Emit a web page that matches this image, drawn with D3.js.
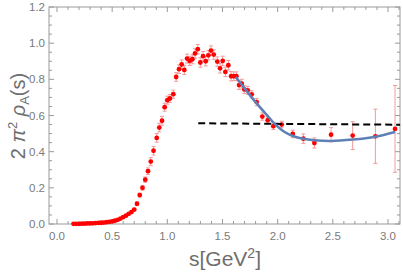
<!DOCTYPE html>
<html>
<head>
<meta charset="utf-8">
<script src="https://cdn.jsdelivr.net/npm/d3@7"></script>
<style>
body{margin:0;background:#fff;}
svg{display:block;}
</style>
</head>
<body>
<script>
// data points (s in GeV^2, 2 pi^2 rho_A)
var sVals = [0.150,0.175,0.200,0.225,0.250,0.275,0.300,0.325,0.350,0.375,
0.400,0.425,0.450,0.475,0.500,0.525,0.550,0.575,0.600,0.625,
0.650,0.675,0.700,0.725,0.750,0.775,0.800,0.825,0.850,0.875,
0.904,0.927,0.952,0.976,1.000,1.024,1.054,1.080,1.106,1.130,
1.154,1.179,1.203,1.227,1.251,1.276,1.299,1.324,1.348,1.372,
1.396,1.421,1.453,1.478,1.502,1.526,1.553,1.578,1.602,1.626,
1.650,1.675,1.698,1.729,1.765,1.810,1.861,1.910,1.961,2.037,
2.137,2.233,2.333,2.484,2.680,2.886,3.064];
var rhoVals = [0.001,0.001,0.001,0.002,0.002,0.003,0.003,0.004,0.005,0.006,
0.007,0.008,0.010,0.012,0.014,0.018,0.023,0.030,0.038,0.046,
0.056,0.066,0.080,0.112,0.160,0.200,0.245,0.292,0.345,0.405,
0.476,0.533,0.571,0.646,0.685,0.694,0.718,0.813,0.856,0.882,
0.852,0.915,0.902,0.911,0.943,0.967,0.893,0.928,0.900,0.933,
0.959,0.937,0.898,0.861,0.902,0.841,0.878,0.817,0.817,0.817,
0.768,0.776,0.744,0.739,0.717,0.674,0.594,0.574,0.541,0.550,
0.498,0.472,0.448,0.494,0.489,0.485,0.526];
var errVals = [0.001,0.001,0.001,0.001,0.001,0.001,0.001,0.001,0.001,0.001,
0.001,0.002,0.002,0.002,0.002,0.002,0.003,0.003,0.004,0.004,
0.005,0.006,0.007,0.009,0.011,0.013,0.015,0.018,0.022,0.024,
0.024,0.024,0.024,0.022,0.022,0.022,0.022,0.024,0.024,0.025,
0.025,0.025,0.025,0.025,0.026,0.026,0.026,0.026,0.026,0.026,
0.026,0.026,0.026,0.026,0.026,0.026,0.026,0.026,0.024,0.024,
0.024,0.024,0.022,0.022,0.020,0.020,0.020,0.018,0.018,0.018,
0.021,0.026,0.028,0.039,0.077,0.150,0.240];

// fitted curve (blue)
var fitS = [1.620,1.720,1.810,1.901,1.976,2.052,2.137,2.233,2.333,2.484,2.680,2.886,3.064];
var fitRho = [0.813,0.735,0.667,0.603,0.552,0.513,0.487,0.471,0.463,0.459,0.467,0.483,0.509];

// perturbative line (black dashed)
var pqcdS = [1.28,3.11];
var pqcdRho = [0.557,0.549];

var xTicks = [0.0,0.5,1.0,1.5,2.0,2.5,3.0];
var yTicks = [0.0,0.2,0.4,0.6,0.8,1.0,1.2];

var width = 403, height = 275;
var mLeft = 49, mRight = 400, mTop = 7, mBottom = 224;

var x = d3.scaleLinear().domain([-0.0725,3.109]).range([mLeft,mRight]);
var y = d3.scaleLinear().domain([0,1.2]).range([mBottom,mTop]);

var svg = d3.select("body").append("svg")
  .attr("width",width).attr("height",height)
  .style("font-family","'Liberation Sans', Arial, sans-serif");

var frameCol = "#9a9a9a";
var labelCol = "#7a7a7a";

// frame with inward ticks, like mathematica
svg.append("rect").attr("x",mLeft).attr("y",mTop)
  .attr("width",mRight-mLeft).attr("height",mBottom-mTop)
  .attr("fill","none").attr("stroke",frameCol).attr("stroke-width",1);

var xMinor = d3.range(0,3.11,0.1);
var yMinor = d3.range(0,1.201,0.05);

var tickG = svg.append("g").attr("stroke",frameCol).attr("stroke-width",1);
xMinor.forEach(function(t){
  var major = Math.abs(t*2-Math.round(t*2))<1e-6;
  var len = major ? 5 : 3;
  tickG.append("line").attr("x1",x(t)).attr("x2",x(t)).attr("y1",mBottom).attr("y2",mBottom-len);
  tickG.append("line").attr("x1",x(t)).attr("x2",x(t)).attr("y1",mTop).attr("y2",mTop+len);
});
yMinor.forEach(function(t){
  var major = Math.abs(t*5-Math.round(t*5))<1e-6;
  var len = major ? 5 : 3;
  tickG.append("line").attr("y1",y(t)).attr("y2",y(t)).attr("x1",mLeft).attr("x2",mLeft+len);
  tickG.append("line").attr("y1",y(t)).attr("y2",y(t)).attr("x1",mRight).attr("x2",mRight-len);
});

// tick labels
svg.selectAll(".xl").data(xTicks).enter().append("text")
  .attr("x",function(d){return x(d);})
  .attr("y",mBottom+16)
  .attr("text-anchor","middle")
  .attr("font-size","11.5px")
  .attr("fill",labelCol)
  .text(function(d){return d.toFixed(1);});
svg.selectAll(".yl").data(yTicks).enter().append("text")
  .attr("x",mLeft-4)
  .attr("y",function(d){return y(d)+4;})
  .attr("text-anchor","end")
  .attr("font-size","11.5px")
  .attr("fill",labelCol)
  .text(function(d){return d.toFixed(1);});

// axis titles
var xt = svg.append("text").attr("x",225).attr("y",266)
  .attr("text-anchor","middle").attr("font-size","21px").attr("fill","#6e6e6e");
xt.append("tspan").text("s[GeV");
xt.append("tspan").attr("font-size","14px").attr("dy",-8).text("2");
xt.append("tspan").attr("dy",8).text("]");

var yt = svg.append("text")
  .attr("transform","translate(25,116) rotate(-90)")
  .attr("text-anchor","middle").attr("font-size","20px").attr("fill","#6e6e6e");
yt.append("tspan").text("2 ");
yt.append("tspan").attr("font-style","italic").text("π");
yt.append("tspan").attr("font-size","13px").attr("dy",-8).text("2");
yt.append("tspan").attr("dy",8).attr("font-style","italic").text(" ρ");
yt.append("tspan").attr("font-size","13px").attr("dy",4).text("A");
yt.append("tspan").attr("dy",-4).text("(s)");

var pts = sVals.map(function(s,i){return {s:s,v:rhoVals[i],e:errVals[i]};});

// error bars
var errCol = "#f29a9a";
var eg = svg.append("g").attr("stroke",errCol).attr("stroke-width",1);
pts.forEach(function(d){
  if (y(d.v-d.e)-y(d.v+d.e) < 2) return;
  eg.append("line").attr("x1",x(d.s)).attr("x2",x(d.s)).attr("y1",y(d.v-d.e)).attr("y2",y(d.v+d.e));
  eg.append("line").attr("x1",x(d.s)-2).attr("x2",x(d.s)+2).attr("y1",y(d.v-d.e)).attr("y2",y(d.v-d.e));
  eg.append("line").attr("x1",x(d.s)-2).attr("x2",x(d.s)+2).attr("y1",y(d.v+d.e)).attr("y2",y(d.v+d.e));
});

// points
svg.selectAll(".pt").data(pts).enter().append("circle")
  .attr("cx",function(d){return x(d.s);})
  .attr("cy",function(d){return y(d.v);})
  .attr("r",2.4)
  .attr("fill","#ff0000");

// dashed pqcd line
var line = d3.line().x(function(d){return x(d[0]);}).y(function(d){return y(d[1]);});
svg.append("path")
  .attr("d",line(pqcdS.map(function(s,i){return [s,pqcdRho[i]];})))
  .attr("fill","none").attr("stroke","#000").attr("stroke-width",2)
  .attr("stroke-dasharray","7,4");

// fit curve
svg.append("path")
  .attr("d",line.curve(d3.curveCatmullRom)(fitS.map(function(s,i){return [s,fitRho[i]];})))
  .attr("fill","none").attr("stroke","#5e81b5").attr("stroke-width",2.6);
</script>
</body>
</html>
